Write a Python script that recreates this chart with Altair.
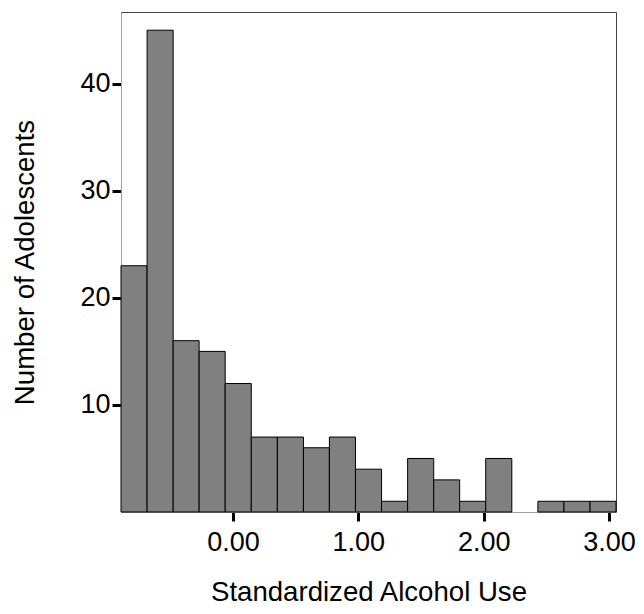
import altair as alt
import pandas as pd

# Histogram bin edges (standardized alcohol use) and counts per bin
bin_edges = [-0.893, -0.685, -0.477, -0.270, -0.062, 0.146, 0.354, 0.562, 0.769,
             0.977, 1.185, 1.393, 1.601, 1.808, 2.016, 2.224, 2.432, 2.640, 2.848, 3.055]
counts = [23, 45, 16, 15, 12, 7, 7, 6, 7, 4, 1, 5, 3, 1, 5, 0, 1, 1, 1]

x_ticks = [0, 1, 2, 3]
y_ticks = [10, 20, 30, 40]

df = pd.DataFrame({
    "lo": bin_edges[:-1],
    "hi": bin_edges[1:],
    "count": counts,
})

FONT = "Liberation Sans"

chart = alt.Chart(df).transform_filter(
    alt.datum.count > 0
).mark_rect(
    fill="#808080", stroke="black", strokeWidth=1
).encode(
    x=alt.X("lo:Q",
            scale=alt.Scale(domain=[bin_edges[0], bin_edges[-1]], nice=False, zero=False),
            axis=alt.Axis(title="Standardized Alcohol Use", values=x_ticks, format=".2f",
                          labelPadding=8, titlePadding=23)),
    x2="hi:Q",
    y=alt.Y("count:Q",
            scale=alt.Scale(domain=[0, 46.7], nice=False),
            axis=alt.Axis(title="Number of Adolescents", values=y_ticks,
                          labelPadding=2, titlePadding=40)),
    y2=alt.datum(0),
).properties(
    width=495, height=500,
    autosize=alt.AutoSizeParams(type="none"),
    padding={"left": 113, "top": 4, "right": 20, "bottom": 94},
).configure_view(
    stroke="#444444", strokeWidth=1
).configure_axis(
    grid=False,
    domain=True, domainColor="#a0a0a0", domainWidth=1,
    ticks=True, tickSize=9, tickWidth=3, tickColor="black",
    labelFont=FONT, labelFontSize=27, labelColor="black",
    titleFont=FONT, titleFontSize=27.6, titleFontWeight="normal", titleColor="black",
    labelFlush=False, labelOverlap=False,
)

chart.save("out.html", embed_options={"renderer": "svg", "actions": False})
